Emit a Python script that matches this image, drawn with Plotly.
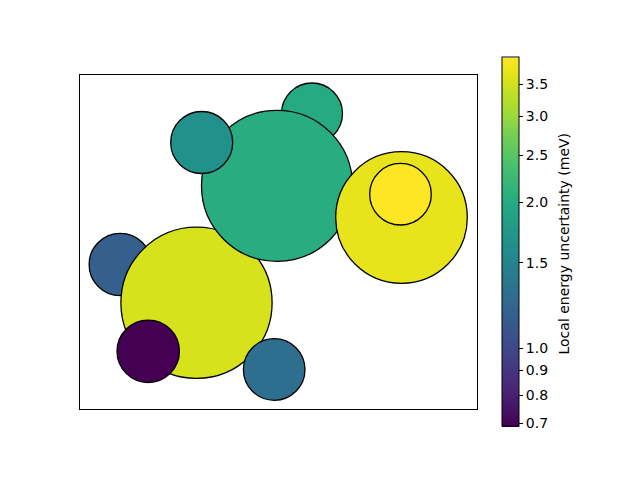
import numpy as np
import plotly.graph_objects as go
from plotly.colors import sample_colorscale

# Circle data (drawing order matters: later drawn on top)
names = ["blue_left", "lime_big", "purple", "teal_bottom", "green_small",
         "green_big", "teal_top", "yellow_big", "yellow_small"]
cx = [4.03, 11.65, 6.82, 19.42, 23.20, 19.70, 12.17, 32.15, 32.05]
cy = [14.45, 10.62, 5.77, 3.95, 29.55, 22.32, 26.65, 19.15, 21.48]
radius = [3.12, 7.56, 3.12, 3.08, 3.05, 7.55, 3.10, 6.58, 3.08]
energy = [1.166, 3.543, 0.69, 1.296, 2.006, 2.042, 1.655, 3.734, 3.97]

tick_vals = [0.7, 0.8, 0.9, 1.0, 1.5, 2.0, 2.5, 3.0, 3.5]
tick_text = ["0.7", "0.8", "0.9", "1.0", "1.5", "2.0", "2.5", "3.0", "3.5"]
cbar_title = "Local energy uncertainty (meV)"

x_range = [0, 39.7]
y_range = [0, 33.4]

# matplotlib-like viridis
viridis = [[0.0, "#440154"], [0.1, "#482576"], [0.2, "#414487"], [0.3, "#355f8d"],
           [0.4, "#2a788e"], [0.5, "#21918c"], [0.6, "#22a884"], [0.7, "#44bf70"],
           [0.8, "#7ad151"], [0.85, "#a0da39"], [0.9, "#bddf26"], [0.95, "#dfe318"],
           [1.0, "#fde725"]]

log_e = np.log(energy)
lo, hi = log_e.min(), log_e.max()
tnorm = (log_e - lo) / (hi - lo)
colors = sample_colorscale(viridis, list(tnorm))

fig = go.Figure()

shapes = []
for x, y, r, c in zip(cx, cy, radius, colors):
    shapes.append(dict(type="circle", xref="x", yref="y",
                       x0=x - r, x1=x + r, y0=y - r, y1=y + r,
                       fillcolor=c, line=dict(color="black", width=1.3),
                       layer="above"))

fig.add_trace(go.Scatter(
    x=cx, y=cy, mode="markers", hoverinfo="skip", showlegend=False,
    marker=dict(size=0, color=list(log_e), colorscale=viridis,
                cmin=lo, cmax=hi, showscale=True,
                colorbar=dict(
                    x=(502 - 80) / 397, xanchor="left", xpad=0,
                    y=0.5, yanchor="middle", ypad=0,
                    len=369 / 334, lenmode="fraction",
                    thickness=17, outlinecolor="black", outlinewidth=1,
                    tickvals=list(np.log(tick_vals)), ticktext=tick_text,
                    ticks="outside", ticklen=4, tickcolor="black",
                    tickfont=dict(family="DejaVu Sans", size=14, color="black"),
                ))))

fig.add_annotation(text=cbar_title, xref="paper", yref="paper",
                   x=(564 - 80) / 397, y=0.4955, xanchor="center", yanchor="middle",
                   textangle=-90, showarrow=False,
                   font=dict(family="DejaVu Sans", size=14, color="black"))

fig.update_layout(
    width=632, height=472,
    margin=dict(l=72, r=163, t=67, b=71),
    plot_bgcolor="white", paper_bgcolor="white",
    shapes=shapes,
    xaxis=dict(range=x_range, showgrid=False, zeroline=False, showticklabels=False,
               ticks="", showline=True, mirror=True, linecolor="black", linewidth=1),
    yaxis=dict(range=y_range, showgrid=False, zeroline=False, showticklabels=False,
               ticks="", showline=True, mirror=True, linecolor="black", linewidth=1),
)

fig.write_html("out.html")
